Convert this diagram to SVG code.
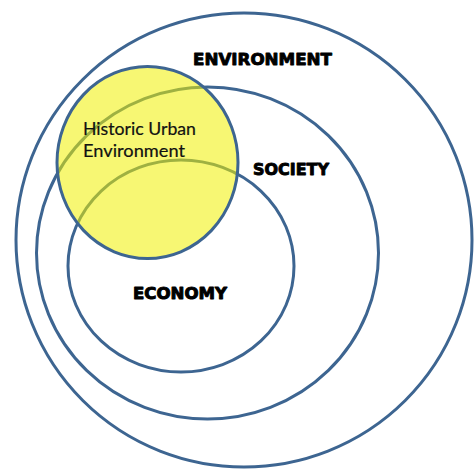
<svg xmlns="http://www.w3.org/2000/svg" width="474" height="469" viewBox="0 0 474 469">
<style>
.ring{fill:none;stroke:#3d6591;stroke-width:3}
.hue{fill:#f0f000;fill-opacity:0.55;stroke:#3d6591;stroke-width:3}
.lbl{font-family:"DejaVu Sans",sans-serif;font-weight:bold;fill:#000;stroke:#000;stroke-width:0.9;stroke-linejoin:round}
.hu{font-family:"Lato","Open Sans",sans-serif;font-size:17px;fill:#111;stroke:#111;stroke-width:0.2}
</style>
<rect width="474" height="469" fill="#ffffff"/>
<g id="environment">
<ellipse class="ring" cx="244" cy="240" rx="228" ry="227"/>
</g>
<g id="society">
<ellipse class="ring" cx="207.5" cy="253" rx="171" ry="166"/>
</g>
<g id="economy">
<ellipse class="ring" cx="181" cy="266" rx="113" ry="106"/>
</g>
<g id="historic-urban-environment">
<ellipse class="hue" cx="147.5" cy="162.5" rx="90.5" ry="96"/>
</g>
<g id="labels">
<text class="lbl" x="193" y="65" font-size="16" textLength="139" lengthAdjust="spacingAndGlyphs">ENVIRONMENT</text>
<text class="lbl" x="253" y="175" font-size="16" textLength="76" lengthAdjust="spacingAndGlyphs">SOCIETY</text>
<text class="lbl" x="133" y="299" font-size="15" textLength="94" lengthAdjust="spacingAndGlyphs">ECONOMY</text>
<text class="hu" x="83" y="135" textLength="113" lengthAdjust="spacingAndGlyphs">Historic Urban</text>
<text class="hu" x="83" y="157" textLength="102" lengthAdjust="spacingAndGlyphs">Environment</text>
</g>
</svg>
